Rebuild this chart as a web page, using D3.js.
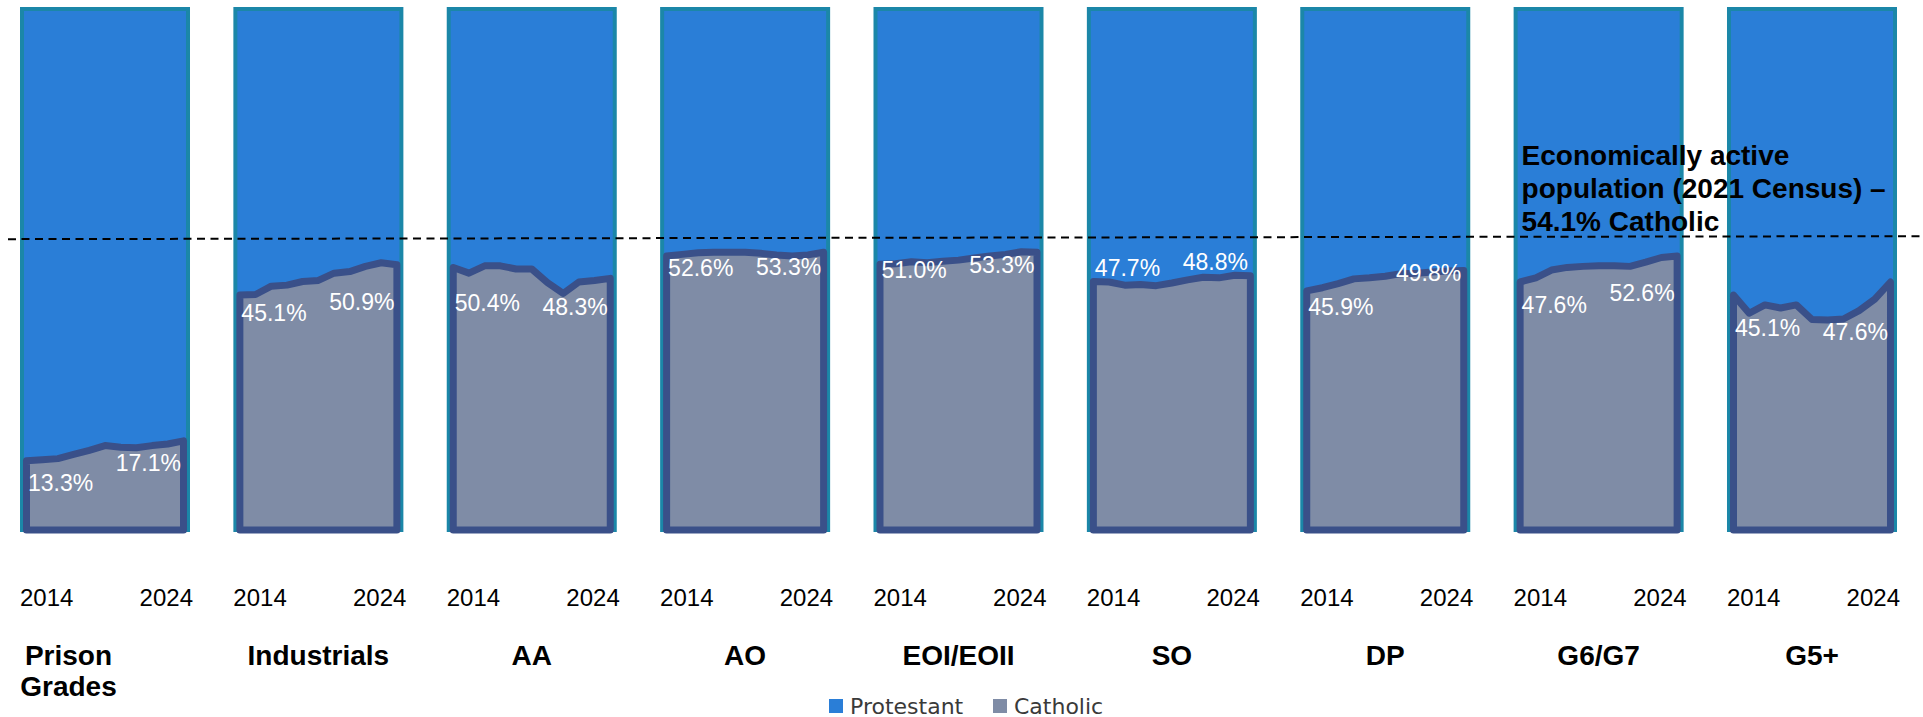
<!DOCTYPE html>
<html>
<head>
<meta charset="utf-8">
<script src="https://cdn.jsdelivr.net/npm/d3@7"></script>
<style>
  body { margin: 0; background: #fff; }
  svg { display: block; font-family: "Liberation Sans", Arial, sans-serif; }
</style>
</head>
<body>
<svg id="chart"></svg>
<script>
let categories = ["Prison Grades", "Industrials", "AA", "AO", "EOI/EOII", "SO", "DP", "G6/G7", "G5+"]
let years = [2014, 2015, 2016, 2017, 2018, 2019, 2020, 2021, 2022, 2023, 2024]
let yearTicks = [2014, 2024]

// Catholic share (%) of each grade, 2014-2024
let prisonGrades = [13.3, 13.5, 13.7, 14.5, 15.3, 16.2, 15.9, 15.8, 16.2, 16.5, 17.1]
let industrials = [45.1, 45.2, 46.8, 47.0, 47.7, 47.9, 49.3, 49.6, 50.6, 51.3, 50.9]
let aa = [50.4, 49.3, 50.7, 50.7, 50.1, 50.1, 47.5, 45.4, 47.6, 47.9, 48.3]
let ao = [52.6, 52.9, 53.2, 53.3, 53.3, 53.3, 53.1, 52.8, 52.6, 52.8, 53.3]
let eoi = [51.0, 51.1, 51.5, 51.3, 51.6, 51.8, 52.2, 52.6, 52.9, 53.4, 53.3]
let so = [47.7, 47.6, 47.0, 47.1, 46.9, 47.4, 48.0, 48.5, 48.4, 48.9, 48.8]
let dp = [45.9, 46.5, 47.3, 48.2, 48.4, 48.7, 49.2, 49.3, 49.5, 49.7, 49.8]
let g6g7 = [47.6, 48.4, 49.9, 50.4, 50.6, 50.7, 50.7, 50.6, 51.4, 52.3, 52.6]
let g5plus = [45.1, 41.6, 43.2, 42.6, 43.2, 40.4, 40.3, 40.5, 42.1, 44.3, 47.6]

let catholicShare = [prisonGrades, industrials, aa, ao, eoi, so, dp, g6g7, g5plus]

let censusCatholic = 54.1
let censusText = ["Economically active", "population (2021 Census) \u2013", censusCatholic + "% Catholic"]
let legendLabels = ["Protestant", "Catholic"]

// label nudges (px, below the line) for first / last value
let labelShift = [[22, 22], [18, 37], [36, 29], [12, 15], [6, 13], [-13, -14], [16, 2], [23, 37], [33, 50]]

let colors = {protestant: "#2a7ed7", catholic: "#7f8ca6", frame: "#1b87a8", line: "#3a5089"}

let svg = d3.select("#chart")
    .attr("width", 1923)
    .attr("height", 717)

let x = d3.scaleBand()
    .domain(categories)
    .range([22, 1895])
    .paddingInner(0.222)
    .paddingOuter(0)

let bw = x.bandwidth()

let y = d3.scaleLinear()
    .domain([0, 100])
    .range([530, 9])

let xi = d3.scaleLinear()
    .domain([years[0], years[years.length - 1]])
    .range([4.5, bw - 4.5])

let fmt = function(v){ return d3.format(".1f")(v) + "%" }

let panels = svg.selectAll("g.panel")
    .data(categories.map(function(c, i){
        return {name: c, i: i, values: years.map(function(yr, j){ return {year: yr, value: catholicShare[i][j]} })}
    }))
    .enter()
    .append("g")
    .attr("class", "panel")
    .attr("transform", function(d){ return "translate(" + x(d.name) + ",0)" })

// protestant = the rest up to 100%
panels.append("rect")
    .attr("x", 0)
    .attr("y", y(100))
    .attr("width", bw)
    .attr("height", y(0) - y(100))
    .attr("fill", colors.protestant)
    .attr("stroke", colors.frame)
    .attr("stroke-width", 4)

let area = d3.area()
    .x(function(d){ return xi(d.year) })
    .y0(y(0))
    .y1(function(d){ return y(d.value) })

panels.append("path")
    .attr("d", function(d){ return area(d.values) + "Z" })
    .attr("fill", colors.catholic)
    .attr("stroke", colors.line)
    .attr("stroke-width", 7)
    .attr("stroke-linejoin", "round")

panels.append("text")
    .attr("x", 6)
    .attr("y", function(d){ return y(d.values[0].value) + labelShift[d.i][0] + 8 })
    .attr("text-anchor", "start")
    .attr("font-size", 23)
    .attr("fill", "#fff")
    .text(function(d){ return fmt(d.values[0].value) })

panels.append("text")
    .attr("x", bw - 7)
    .attr("y", function(d){ return y(d.values[d.values.length - 1].value) + labelShift[d.i][1] + 8 })
    .attr("text-anchor", "end")
    .attr("font-size", 23)
    .attr("fill", "#fff")
    .text(function(d){ return fmt(d.values[d.values.length - 1].value) })

// year ticks
panels.selectAll("text.year")
    .data(yearTicks)
    .enter()
    .append("text")
    .attr("class", "year")
    .attr("x", function(d, i){ return i == 0 ? -2 : bw + 5 })
    .attr("y", 606)
    .attr("text-anchor", function(d, i){ return i == 0 ? "start" : "end" })
    .attr("font-size", 24)
    .attr("fill", "#000")
    .text(function(d){ return d })

// category names
panels.append("text")
    .attr("class", "cat")
    .attr("y", 665)
    .attr("font-size", 28)
    .attr("font-weight", "bold")
    .attr("text-anchor", "middle")
    .attr("fill", "#000")
    .each(function(d){
        let words = d.name.split(" ")
        let t = d3.select(this)
        let cx = words.length > 1 ? bw * 0.28 : bw / 2
        words.forEach(function(w, k){
            t.append("tspan")
                .attr("x", cx)
                .attr("dy", k == 0 ? 0 : 31)
                .text(w)
        })
    })

// census reference line (drawn a touch above, as in the original slide)
let lineY = y(censusCatholic) - 10

svg.append("line")
    .attr("x1", 8)
    .attr("x2", 1923)
    .attr("y1", lineY + 1)
    .attr("y2", lineY - 2)
    .attr("stroke", "#000")
    .attr("stroke-width", 2)
    .attr("stroke-dasharray", "8,5.5")

svg.append("text")
    .attr("x", x("G6/G7") + 6)
    .attr("y", lineY - 73)
    .attr("font-size", 28)
    .attr("font-weight", "bold")
    .attr("fill", "#000")
    .selectAll("tspan")
    .data(censusText)
    .enter()
    .append("tspan")
    .attr("x", x("G6/G7") + 6)
    .attr("dy", function(d, i){ return i == 0 ? 0 : 33 })
    .text(function(d){ return d })

// legend
let legend = svg.append("g")
    .attr("transform", "translate(829,699)")

let lg = legend.selectAll("g")
    .data(legendLabels)
    .enter()
    .append("g")
    .attr("transform", function(d, i){ return "translate(" + (i * 164) + ",0)" })

lg.append("rect")
    .attr("width", 14)
    .attr("height", 14)
    .attr("fill", function(d, i){ return i == 0 ? colors.protestant : colors.catholic })

lg.append("text")
    .attr("x", 21)
    .attr("y", 15)
    .attr("font-family", "DejaVu Sans")
    .attr("font-size", 22)
    .attr("fill", "#3a3a3a")
    .text(function(d){ return d })
</script>
</body>
</html>
